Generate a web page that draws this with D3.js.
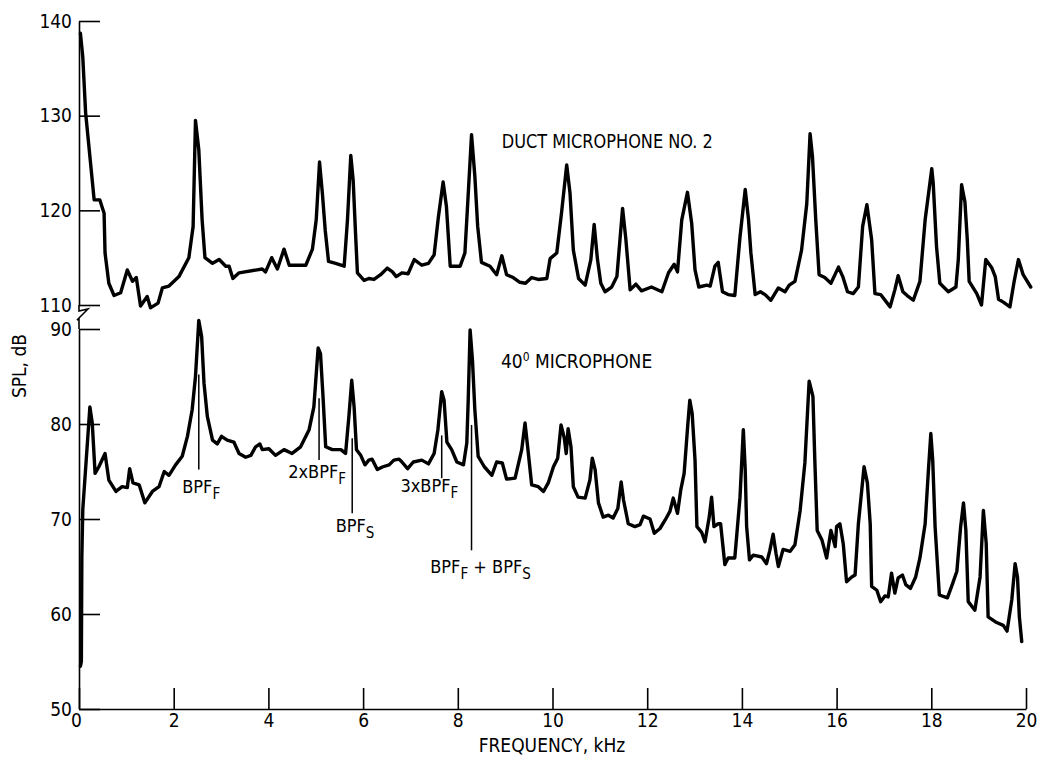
<!DOCTYPE html>
<html><head><meta charset="utf-8">
<script src="https://cdn.jsdelivr.net/npm/d3@7/dist/d3.min.js"></script>
<style>
body{margin:0;background:#fff}
text{font-family:"Liberation Sans Narrow","DejaVu Sans Condensed","Arial Narrow",sans-serif;fill:#000}
</style></head><body>
<svg id="c" width="1037" height="759"></svg>
<script>
// ---- data (frequency in kHz, SPL in dB) ----
const ductFreq=[0.03,0.08,0.14,0.32,0.44,0.53,0.55,0.63,0.74,0.88,1.02,1.13,1.21,1.30,1.44,1.51,1.67,1.76,1.90,2.11,2.32,2.41,2.46,2.53,2.60,2.66,2.82,2.96,3.10,3.17,3.25,3.38,3.87,3.94,4.07,4.19,4.33,4.44,4.79,4.93,5.01,5.08,5.14,5.20,5.27,5.42,5.60,5.67,5.74,5.79,5.84,5.88,6.02,6.12,6.23,6.37,6.51,6.62,6.70,6.82,6.95,7.08,7.24,7.38,7.50,7.59,7.69,7.76,7.84,7.93,8.05,8.15,8.21,8.29,8.36,8.42,8.50,8.68,8.82,8.93,9.03,9.17,9.31,9.43,9.56,9.70,9.88,9.95,10.09,10.19,10.30,10.37,10.44,10.55,10.69,10.81,10.88,10.95,11.02,11.11,11.25,11.36,11.48,11.55,11.64,11.76,11.88,12.09,12.31,12.45,12.57,12.64,12.73,12.85,12.94,13.01,13.09,13.26,13.33,13.43,13.50,13.59,13.71,13.85,13.96,14.07,14.14,14.19,14.28,14.39,14.49,14.61,14.77,14.91,15.00,15.12,15.26,15.37,15.44,15.49,15.56,15.63,15.75,15.88,16.04,16.13,16.23,16.35,16.46,16.55,16.64,16.74,16.81,16.93,17.13,17.23,17.30,17.40,17.49,17.62,17.76,17.87,18.01,18.04,18.11,18.18,18.36,18.52,18.57,18.64,18.71,18.76,18.80,18.96,19.06,19.15,19.28,19.35,19.42,19.52,19.66,19.75,19.84,19.94,20.10];
const ductSPL=[138.7,136.2,130.3,121.1,121.1,119.7,115.5,112.3,111.0,111.3,113.7,112.5,112.9,109.9,110.9,109.7,110.2,111.8,112.0,113.0,115.0,118.3,129.5,126.4,119.0,115.0,114.4,114.8,114.1,114.1,112.8,113.4,113.8,113.5,115.0,113.8,115.9,114.2,114.2,115.9,119.0,125.1,121.8,117.9,114.6,114.4,114.1,119.0,125.8,123.2,117.6,113.4,112.6,112.8,112.7,113.2,113.9,113.5,113.0,113.4,113.3,114.8,114.2,114.4,115.3,119.3,123.0,120.4,114.1,114.1,114.1,115.5,120.8,128.0,123.6,118.3,114.5,114.1,113.2,115.2,113.2,112.9,112.4,112.3,112.9,112.7,112.8,114.9,115.5,119.7,124.8,121.8,115.8,112.8,112.1,114.8,118.5,114.8,112.3,111.4,111.9,113.0,120.2,116.9,111.6,112.2,111.5,111.9,111.4,113.4,114.3,113.5,119.0,121.9,118.6,113.7,111.9,112.1,112.0,114.1,114.5,111.4,111.1,111.0,117.2,122.2,119.0,115.5,111.1,111.4,111.1,110.5,111.8,111.4,112.1,112.5,115.8,120.7,128.1,125.7,119.0,113.2,112.9,112.3,114.0,113.0,111.4,111.2,111.9,118.3,120.6,116.9,111.2,111.1,109.8,111.6,113.1,111.4,111.0,110.5,112.5,119.0,124.4,122.9,116.2,112.3,111.4,111.9,114.8,122.7,120.9,116.9,112.5,111.2,110.0,114.8,113.9,113.0,110.6,110.3,109.8,112.5,114.8,113.2,111.9];

const micFreq=[0.03,0.05,0.06,0.08,0.23,0.28,0.34,0.42,0.55,0.63,0.78,0.91,1.02,1.07,1.14,1.27,1.39,1.55,1.69,1.80,1.90,2.04,2.18,2.29,2.39,2.46,2.53,2.59,2.64,2.71,2.82,2.92,3.01,3.13,3.27,3.38,3.52,3.63,3.73,3.82,3.87,4.01,4.15,4.33,4.50,4.68,4.86,4.96,5.05,5.10,5.15,5.21,5.35,5.53,5.63,5.70,5.76,5.81,5.86,5.95,6.04,6.12,6.19,6.30,6.42,6.55,6.65,6.76,6.82,6.94,7.06,7.24,7.38,7.50,7.58,7.66,7.71,7.77,7.87,7.98,8.12,8.19,8.22,8.26,8.31,8.36,8.43,8.56,8.72,8.82,8.94,9.03,9.21,9.35,9.42,9.49,9.56,9.70,9.81,9.91,10.02,10.11,10.18,10.25,10.29,10.33,10.39,10.44,10.54,10.69,10.79,10.84,10.90,10.97,11.07,11.18,11.28,11.38,11.45,11.50,11.60,11.74,11.85,11.92,12.06,12.15,12.27,12.38,12.48,12.55,12.64,12.71,12.78,12.86,12.90,12.95,13.01,13.05,13.15,13.22,13.31,13.36,13.41,13.50,13.55,13.64,13.71,13.85,13.96,14.03,14.07,14.10,14.16,14.24,14.42,14.52,14.59,14.66,14.72,14.77,14.87,15.02,15.12,15.23,15.33,15.42,15.50,15.54,15.59,15.69,15.79,15.88,15.97,16.00,16.07,16.14,16.21,16.32,16.39,16.46,16.58,16.65,16.71,16.74,16.85,16.93,17.02,17.09,17.16,17.23,17.30,17.39,17.46,17.56,17.67,17.76,17.87,17.94,17.99,18.03,18.08,18.17,18.34,18.45,18.54,18.62,18.68,18.73,18.78,18.92,19.03,19.10,19.16,19.20,19.38,19.52,19.60,19.70,19.77,19.82,19.86,19.91];
const micSPL=[54.5,55.0,66.0,71.0,81.8,80.1,74.8,75.5,76.9,74.1,72.9,73.4,73.3,75.3,73.8,73.6,71.7,72.9,73.4,75.0,74.6,75.7,76.6,78.7,81.5,85.0,90.9,89.2,84.3,80.8,78.3,77.9,78.7,78.3,78.1,76.9,76.5,76.7,77.6,77.9,77.3,77.4,76.7,77.3,76.9,77.6,79.4,81.8,88.0,87.4,83.2,77.6,77.3,77.3,76.9,80.8,84.6,81.8,77.3,76.7,75.7,76.2,76.3,75.2,75.5,75.7,76.2,76.3,76.0,75.3,76.0,76.2,75.8,76.9,79.4,83.4,82.5,78.1,77.3,76.0,75.7,78.0,82.5,89.9,86.7,81.5,76.6,75.5,74.6,76.0,75.9,74.2,74.3,77.3,80.1,76.9,73.6,73.4,72.9,73.8,75.5,76.4,79.9,78.5,76.9,79.5,77.6,73.4,72.3,72.2,74.1,76.4,75.2,71.7,70.2,70.4,70.1,71.1,73.9,72.0,69.5,69.2,69.4,70.3,70.0,68.5,69.0,69.9,70.8,72.2,70.6,73.1,74.8,80.1,82.5,81.1,76.2,69.2,68.6,67.6,70.2,72.3,69.2,69.5,69.5,65.2,65.9,65.9,72.3,79.4,75.2,69.2,65.7,66.2,66.0,65.3,66.7,68.4,66.4,65.0,66.8,66.6,67.3,70.9,75.9,84.5,82.9,76.2,68.8,67.8,65.9,68.8,67.1,69.2,69.5,67.4,63.4,63.9,64.1,69.5,75.5,73.8,69.5,62.9,62.5,61.3,61.9,61.8,64.3,62.2,63.8,64.1,63.1,62.7,63.9,65.9,69.5,75.2,79.0,76.2,69.2,62.0,61.7,63.2,64.5,69.2,71.7,68.8,61.3,60.4,63.9,70.9,67.4,59.7,59.1,58.8,58.2,61.5,65.3,63.9,59.7,57.1];

const xTickValues=[0,2,4,6,8,10,12,14,16,18,20];
const ductTickValues=[110,120,130,140];
const micTickValues=[50,60,70,80,90];

// annotation marker lines (kHz, dB top, dB bottom) and their labels
const markFreq=[2.53,5.07,5.77,7.66,8.29];
const markTop=[85.2,82.7,78.5,78.8,79.9];
const markBottom=[75.2,76.2,70.6,74.3,66.7];
const markLabelFreq=[2.58,5.03,5.83,7.40,8.48];
const markLabelDb=[72.7,74.3,68.6,72.8,64.3];
const markLabelParts=[
  [["BPF",0],["F",1]],
  [["2xBPF",0],["F",1]],
  [["BPF",0],["S",1]],
  [["3xBPF",0],["F",1]],
  [["BPF",0],["F",1],[" + BPF",0],["S",1]]
];

// ---- drawing ----
const svg=d3.select("#c");
const x=d3.scaleLinear().domain([0,20]).range([79,1026]);
const yDuct=d3.scaleLinear().domain([110,140]).range([305,21]);
const yMic=d3.scaleLinear().domain([50,90]).range([709,329]);

// left axes (inward ticks)
const gDuct=svg.append("g").attr("transform","translate(79,0)")
  .call(d3.axisLeft(yDuct).tickValues(ductTickValues).tickSizeInner(-21).tickSizeOuter(0).tickPadding(7));
const gMic=svg.append("g").attr("transform","translate(79,0)")
  .call(d3.axisLeft(yMic).tickValues(micTickValues).tickSizeInner(-21).tickSizeOuter(0).tickPadding(7));
const gX=svg.append("g").attr("transform","translate(0,709)")
  .call(d3.axisBottom(x).tickValues(xTickValues).tickSizeInner(-21).tickSizeOuter(0).tickPadding(5));
[gDuct,gMic,gX].forEach(g=>{
  g.selectAll("path.domain").attr("stroke","#000").attr("stroke-width",1.6);
  g.selectAll(".tick line").attr("stroke","#000").attr("stroke-width",1.6);
  g.selectAll(".tick text").attr("font-size",19).attr("fill","#000")
   .style("font-family",'"Liberation Sans Narrow","DejaVu Sans Condensed",sans-serif');
});
gX.select(".tick text").attr("dx",-3);

// axis break between the two scales
svg.append("path")
  .attr("d",`M79,${yDuct(110)} L79,311 L88,309 L77,320 L79,319 L79,${yMic(90)}`)
  .attr("fill","none").attr("stroke","#000").attr("stroke-width",1.6);

// curves
const line=(ys)=>d3.line().x(d=>x(d[0])).y(d=>ys(d[1]));
svg.append("path").datum(ductFreq.map((f,i)=>[f,ductSPL[i]]))
  .attr("d",line(yDuct)).attr("fill","none").attr("stroke","#000")
  .attr("stroke-width",3.4).attr("stroke-linejoin","round").attr("stroke-linecap","round");
svg.append("path").datum(micFreq.map((f,i)=>[f,micSPL[i]]))
  .attr("d",line(yMic)).attr("fill","none").attr("stroke","#000")
  .attr("stroke-width",3.4).attr("stroke-linejoin","round").attr("stroke-linecap","round");

// annotation lines and labels
markFreq.forEach((f,i)=>{
  svg.append("line").attr("x1",x(f)).attr("x2",x(f))
    .attr("y1",yMic(markTop[i])).attr("y2",yMic(markBottom[i]))
    .attr("stroke","#000").attr("stroke-width",1.5);
  const t=svg.append("text").attr("x",x(markLabelFreq[i])).attr("y",yMic(markLabelDb[i]))
    .attr("text-anchor","middle").attr("font-size",18);
  let sub=0;
  markLabelParts[i].forEach(([s,isSub])=>{
    const dy = isSub && !sub ? 6 : (!isSub && sub ? -6 : 0);
    t.append("tspan").text(s).attr("dy",dy).attr("font-size",isSub?15:18);
    sub=isSub;
  });
});

// series labels
svg.append("text").attr("x",x(8.93)).attr("y",yDuct(126.6))
  .attr("font-size",19).attr("textLength",211).attr("lengthAdjust","spacingAndGlyphs")
  .text("DUCT MICROPHONE NO. 2");
const t40=svg.append("text").attr("x",x(8.91)).attr("y",yMic(85.9)).attr("font-size",19);
t40.append("tspan").text("40");
t40.append("tspan").text("0").attr("font-size",12).attr("dy",-7);
t40.append("tspan").text(" MICROPHONE").attr("dy",7);

// axis titles
svg.append("text").attr("x",552).attr("y",752).attr("text-anchor","middle")
  .attr("font-size",19).text("FREQUENCY, kHz");
svg.append("text").attr("transform","translate(26,366) rotate(-90)")
  .attr("text-anchor","middle").attr("font-size",19).text("SPL, dB");
</script></body></html>
